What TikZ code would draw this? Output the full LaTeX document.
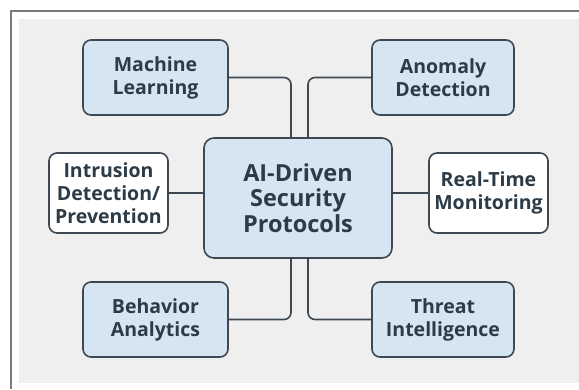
\documentclass[tikz,border=0pt]{standalone}
\usepackage{fontspec}
\setmainfont{Open Sans}
\usetikzlibrary{calc}
\definecolor{bgc}{HTML}{EFEFEF}
\definecolor{boxblue}{HTML}{D5E5F2}
\definecolor{edgec}{HTML}{3E4852}
\definecolor{txtc}{HTML}{2C3B48}
\definecolor{framec}{HTML}{7A7A7A}
\tikzset{
  x=1pt, y=-1pt,
  box/.style={draw=edgec, line width=1.6pt, rounded corners=8pt, fill=boxblue,
    text=txtc, align=center, font=\bfseries\fontsize{19.5}{23}\selectfont,
    inner sep=0pt},
  wbox/.style={box, fill=white},
  cbox/.style={box, rounded corners=10pt, font=\bfseries\fontsize{23.5}{25.5}\selectfont},
  conn/.style={draw=edgec, line width=1.6pt, rounded corners=7pt},
}
\begin{document}
\begin{tikzpicture}
\useasboundingbox (0,0) rectangle (579,389);
\fill[white] (0,0) rectangle (579,389);
\fill[bgc] (19,19) rectangle (579,383);
\draw[framec, line width=1.3pt] (579,11) -- (11,11) -- (11,389);

\coordinate (vl) at (291,0);
\coordinate (vr) at (308,0);

\node[cbox, minimum width=188pt, minimum height=120pt] (ctr) at (298,198) {AI-Driven\\Security\\Protocols};
\node[box, minimum width=145pt, minimum height=75pt] (ml) at (155.5,77.5) {Machine\\Learning};
\node[box, minimum width=142pt, minimum height=75pt] (ad) at (443,77.5) {Anomaly\\Detection};
\node[wbox, minimum width=119pt, minimum height=80pt] (ids) at (108.5,193) {Intrusion\\Detection/\\Prevention};
\node[wbox, minimum width=119pt, minimum height=80pt] (rt) at (488.5,193) {Real-Time\\Monitoring};
\node[box, minimum width=145pt, minimum height=75pt] (ba) at (155.5,319.5) {Behavior\\Analytics};
\node[box, minimum width=142pt, minimum height=75pt] (ti) at (443,319.5) {Threat\\Intelligence};

\draw[conn] (ml.east) -| (vl |- ctr.north);
\draw[conn] (ad.west) -| (vr |- ctr.north);
\draw[conn] (ba.east) -| (vl |- ctr.south);
\draw[conn] (ti.west) -| (vr |- ctr.south);
\draw[conn] (ids.east) -- (ids.east -| ctr.west);
\draw[conn] (rt.west) -- (rt.west -| ctr.east);
\end{tikzpicture}
\end{document}
